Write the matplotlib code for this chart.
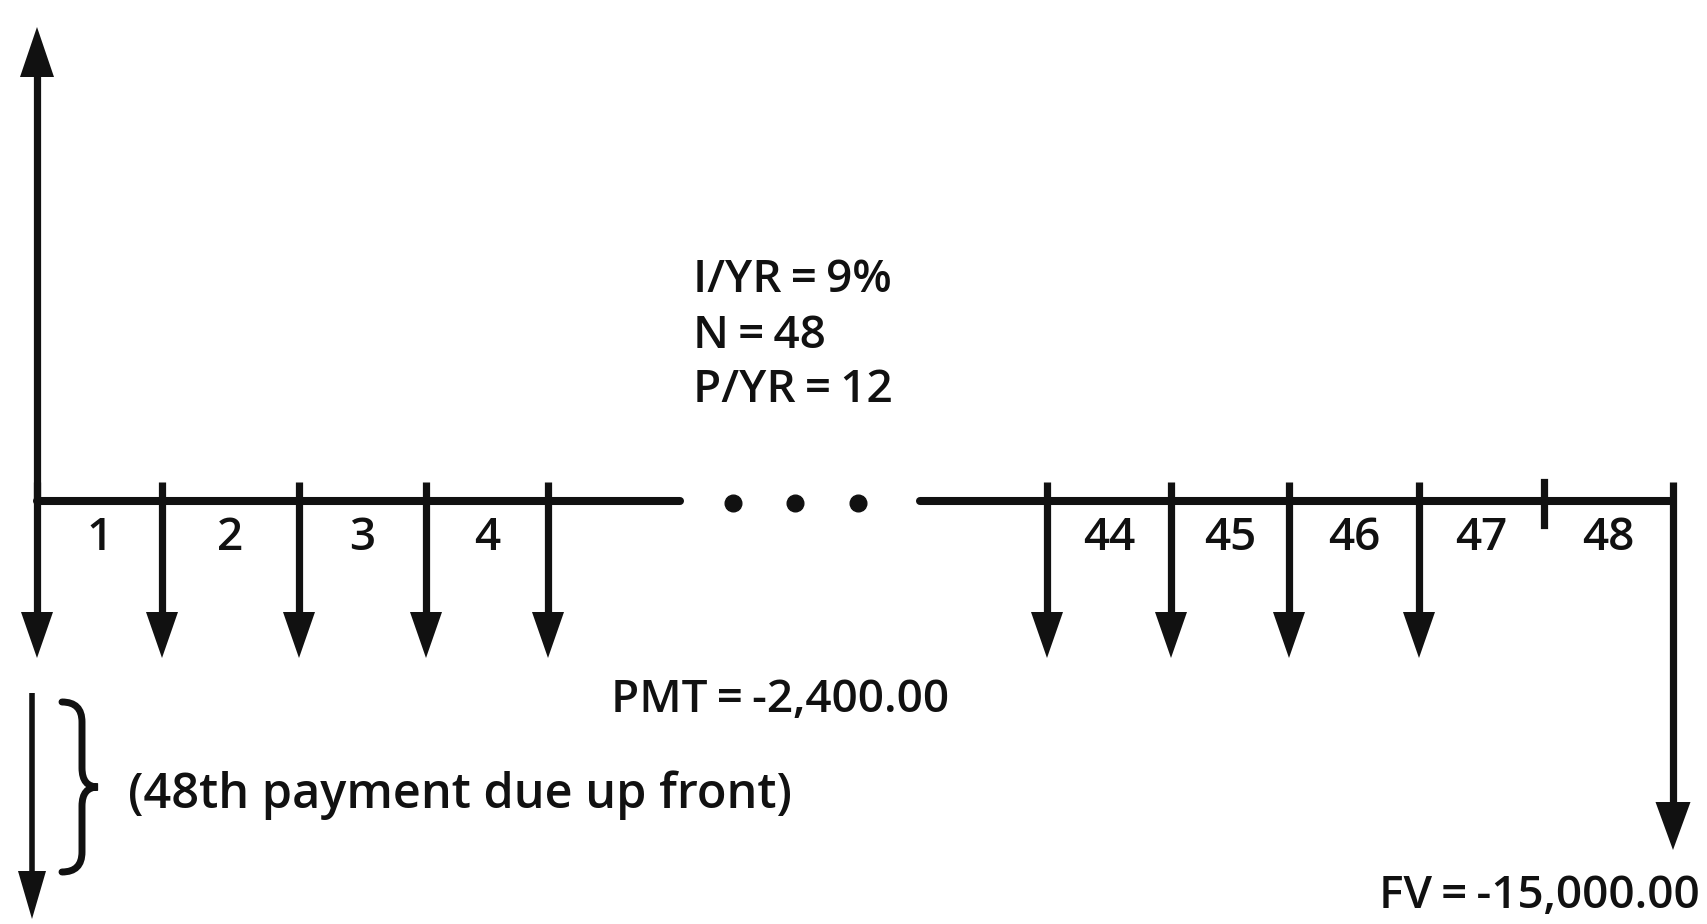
import matplotlib.pyplot as plt
from matplotlib.path import Path
from matplotlib.patches import PathPatch

# timeline data: period numbers and where each tick sits (pixel layout)
left_periods = [0, 1, 2, 3, 4]
left_x = [37, 162, 299, 426, 548]
right_periods = [43, 44, 45, 46, 47, 48]
right_x = [1047, 1171, 1289, 1419, 1544, 1673]

pmt_periods = [0, 1, 2, 3, 4, 43, 44, 45, 46]   # annuity-due payments
label_periods = [1, 2, 3, 4, 44, 45, 46, 47, 48]
fv_period = 48

TS = '\u2009'  # thin space, the source sets "=" tight
calc_inputs = [f"I/YR{TS}={TS}9%", f"N{TS}={TS}48", f"P/YR{TS}={TS}12"]
pmt_text = f"PMT{TS}={TS}-2,400.00"
fv_text = f"FV{TS}={TS}-15,000.00"
note_text = "(48th payment due up front)"

period_x = dict(zip(left_periods + right_periods, left_x + right_x))

FONT = ['Open Sans', 'DejaVu Sans']
FS = 33
FW = 'semibold'
LW = 5.2
INK = '#111111'

fig = plt.figure(figsize=(17.07, 9.24), dpi=100)
ax = fig.add_axes([0, 0, 1, 1])
ax.set_xlim(0, 1707)
ax.set_ylim(924, 0)
ax.axis('off')

y_line = 501
y_top_tick = 482


def arrow(x, y0, y1, head_w=32, head_l=46, lw=LW):
    # shaft from y0 to y1, filled head ending at y1
    d = 1 if y1 > y0 else -1
    ax.plot([x, x], [y0, y1 - d * head_l * 0.6], color=INK, lw=lw,
            solid_capstyle='butt')
    ax.fill([x - head_w / 2, x + head_w / 2, x], [y1 - d * head_l, y1 - d * head_l, y1],
            color=INK, lw=0)


def label(x, y, s, ha='center', fs=FS):
    ax.text(x, y, s, ha=ha, va='center', fontsize=fs, fontweight=FW,
            family=FONT, color=INK)


# timeline pieces
ax.plot([left_x[0], 680], [y_line, y_line], color=INK, lw=5.8, solid_capstyle='round')
ax.plot([920, right_x[-1]], [y_line, y_line], color=INK, lw=5.8, solid_capstyle='round')
ax.plot([733, 795, 858], [503, 503, 503], 'o', color=INK, ms=12)

# PV arrow up from time 0
arrow(period_x[0], y_line, 27, head_w=34, head_l=50)

# payment arrows
for p in pmt_periods:
    arrow(period_x[p], y_top_tick, 658, head_w=32, head_l=46)

# plain tick at 47, end line at 48 with the FV arrow
ax.plot([period_x[47], period_x[47]], [y_top_tick, 525], color=INK, lw=LW)
arrow(period_x[fv_period], y_top_tick, 850, head_w=35, head_l=48)

# period labels, centred between ticks
for p in label_periods:
    xm = (period_x[p - 1] + period_x[p]) / 2
    label(xm, 538, str(p))

# calculator inputs
for i, s in enumerate(calc_inputs):
    label(693, 281 + i * 55, s, ha='left')

label(780, 701, pmt_text)
label(1700, 897, fv_text, ha='right')

# separate 48th payment up front
arrow(32, 693, 919, head_w=28, head_l=48, lw=4)
brace = Path([(62, 702), (82, 702), (82, 722), (82, 768), (82, 787), (98, 787),
              (82, 787), (82, 806), (82, 852), (82, 872), (62, 872)],
             [Path.MOVETO, Path.CURVE3, Path.CURVE3, Path.LINETO, Path.CURVE3, Path.CURVE3,
              Path.CURVE3, Path.CURVE3, Path.LINETO, Path.CURVE3, Path.CURVE3])
ax.add_patch(PathPatch(brace, fill=False, lw=5, color=INK, capstyle='round'))
label(128, 795, note_text, ha='left', fs=35)

fig.savefig('out.png', dpi=100)
